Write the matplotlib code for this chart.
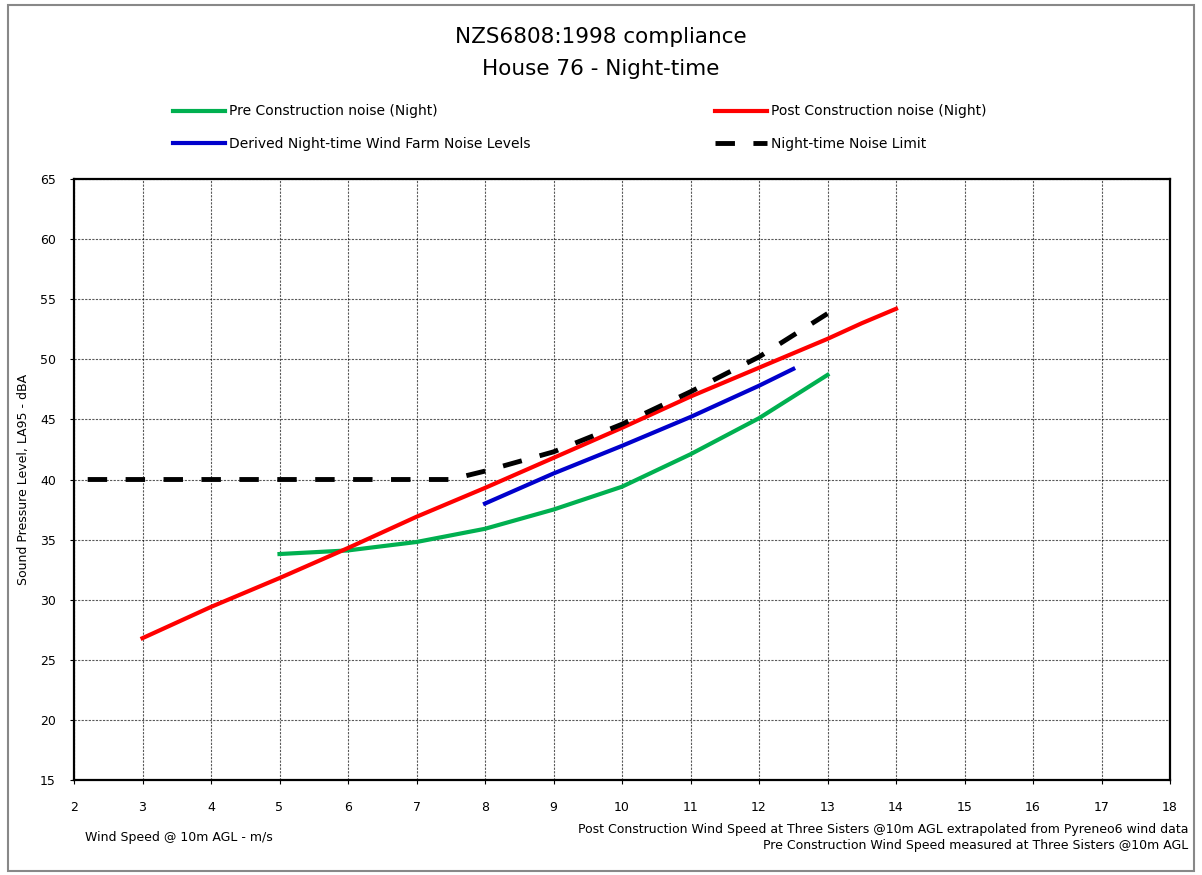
import matplotlib.pyplot as plt
from matplotlib.patches import Rectangle

plt.rcParams['font.family'] = ['DejaVu Sans']

# wind speed (m/s) and sound levels (dBA)
pre_ws = [5, 6, 7, 8, 9, 10, 11, 12, 13]
pre_db = [33.8, 34.1, 34.8, 35.9, 37.5, 39.4, 42.1, 45.1, 48.7]

post_ws = [3, 4, 5, 6, 7, 8, 9, 10, 11, 12, 13, 13.5, 14]
post_db = [26.8, 29.4, 31.8, 34.3, 36.9, 39.3, 41.8, 44.3, 46.9, 49.3, 51.7, 53.0, 54.2]

derived_ws = [8, 9, 10, 11, 12, 12.5]
derived_db = [38.0, 40.5, 42.8, 45.2, 47.8, 49.2]

limit_ws = [2.2, 3, 4, 5, 6, 7, 7.5, 8, 9, 10, 11, 12, 13]
limit_db = [40, 40, 40, 40, 40, 40, 40, 40.7, 42.3, 44.6, 47.3, 50.2, 53.8]

fig = plt.figure(figsize=(12.02, 8.75), dpi=100)
ax = fig.add_axes([74 / 1202, 1 - 780 / 875, (1170 - 74) / 1202, (780 - 179) / 875])

ax.plot(pre_ws, pre_db, color='#00b050', lw=3, label='Pre Construction noise (Night)', zorder=3)
ax.plot(post_ws, post_db, color='#ff0000', lw=3, label='Post Construction noise (Night)', zorder=4)
ax.plot(derived_ws, derived_db, color='#0000cc', lw=3, label='Derived Night-time Wind Farm Noise Levels', zorder=3)
ax.plot(limit_ws, limit_db, color='black', lw=3.5, dashes=(4, 3.8), label='Night-time Noise Limit', zorder=5)

ax.set_xlim(2, 18)
ax.set_ylim(15, 65)
ax.set_xticks(range(2, 19))
ax.set_yticks(range(15, 66, 5))
ax.grid(True, color='black', linestyle=(0, (2, 1.2)), lw=0.8, alpha=0.65)
ax.tick_params(labelsize=9, length=3, direction='out', pad=12, colors='black')
ax.tick_params(axis='y', pad=10)
for s in ax.spines.values():
    s.set_linewidth(1.6)

ax.set_ylabel('Sound Pressure Level, LA95 - dBA', fontsize=9)
ax.yaxis.set_label_coords(-0.04, 0.5)

fig.text(0.5, 1 - 37 / 875, 'NZS6808:1998 compliance', ha='center', va='center', fontsize=15.5)
fig.text(0.5, 1 - 69 / 875, 'House 76 - Night-time', ha='center', va='center', fontsize=15.5)

h = ax.get_lines()
fig.legend([h[0], h[2]], [h[0].get_label(), h[2].get_label()], loc='upper left',
           bbox_to_anchor=(160 / 1202, 1 - 92 / 875), frameon=False, fontsize=10,
           handlelength=3.8, handletextpad=0.25, labelspacing=1.35)
fig.legend([h[1], h[3]], [h[1].get_label(), h[3].get_label()], loc='upper left',
           bbox_to_anchor=(702 / 1202, 1 - 92 / 875), frameon=False, fontsize=10,
           handlelength=3.8, handletextpad=0.25, labelspacing=1.35)

fig.text(85 / 1202, 1 - 838 / 875, 'Wind Speed @ 10m AGL - m/s', ha='left', va='center', fontsize=9)
fig.text(1188 / 1202, 1 - 829 / 875,
         'Post Construction Wind Speed at Three Sisters @10m AGL extrapolated from Pyreneo6 wind data',
         ha='right', va='center', fontsize=9)
fig.text(1188 / 1202, 1 - 846 / 875, 'Pre Construction Wind Speed measured at Three Sisters @10m AGL',
         ha='right', va='center', fontsize=9)

fig.patches.append(Rectangle((8 / 1202, 4 / 875), 1186 / 1202, 866 / 875, transform=fig.transFigure,
                             fill=False, edgecolor='#888888', lw=1.5))

fig.savefig('out.png', dpi=100)
